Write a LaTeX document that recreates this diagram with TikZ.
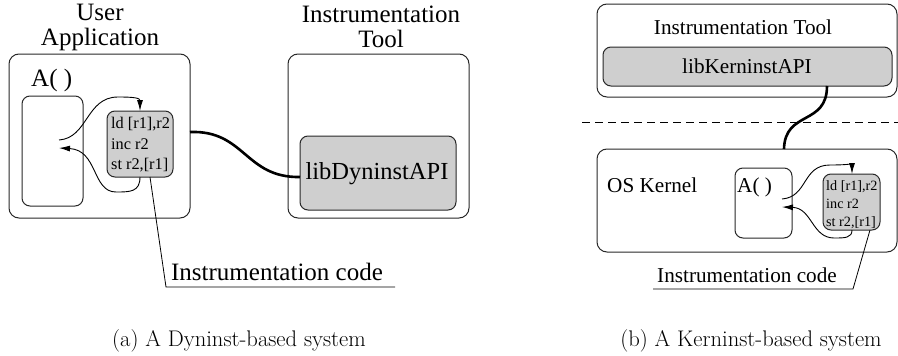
\documentclass[tikz,border=0pt]{standalone}
\usepackage{fontspec}
\setmainfont{Liberation Serif}
\newfontfamily\capfont{Latin Modern Roman}
\usetikzlibrary{arrows.meta}
\definecolor{boxgray}{RGB}{207,207,207}
\definecolor{edge}{RGB}{40,40,40}
\begin{document}
\begin{tikzpicture}[x=1pt,y=-1pt,
  outer/.style={draw=edge,line width=1pt,rounded corners=10pt},
  inner/.style={draw=edge,line width=1pt,rounded corners=8pt},
  graybox/.style={draw=edge,line width=1pt,fill=boxgray,rounded corners=8pt},
  bigtxt/.style={font=\fontsize{25}{25}\selectfont,align=center,inner sep=0pt},
  midtxt/.style={font=\fontsize{21.2}{22}\selectfont,align=center,inner sep=0pt},
  codeA/.style={font=\fontsize{16.3}{20.5}\selectfont,align=left,inner sep=0pt},
  codeB/.style={font=\fontsize{14.2}{18}\selectfont,align=left,inner sep=0pt},
  captxt/.style={font=\capfont\fontsize{22.6}{24}\selectfont,inner sep=0pt},
  flow/.style={line width=0.9pt,-{Latex[length=11pt,width=6pt]}},
  link/.style={line width=2.6pt},
  leader/.style={line width=0.8pt}
]
\useasboundingbox (0,0) rectangle (898,356);
% ---------- (a) ----------
\node[bigtxt] (ualbl) at (100,27) {User\\Application};
\node[bigtxt] (itlbl) at (381,27) {Instrumentation\\Tool};
\draw[outer] (9,54) rectangle (190,218);
\coordinate (oAr) at (190,132);
\draw[outer] (288,54) rectangle (469,218);
\node[bigtxt,anchor=west] (alblA) at (31,80) {A( )};
\draw[inner] (22,96) rectangle (83,206);
\draw[graybox] (107,111) rectangle (173,177);
\node[codeA,anchor=north west] (codeTxtA) at (111,117) {ld [r1],r2\\inc r2\\st r2,[r1]};
\draw[graybox] (300,136) rectangle (456,210);
\node[font=\fontsize{24.5}{25}\selectfont,inner sep=0pt] (libD) at (377,174) {libDyninstAPI};
\coordinate (libDw) at (300,177);
\draw[link] (oAr) .. controls (245,130) and (245,178) .. (libDw);
\coordinate (a1s) at (59,140);
\coordinate (a1e) at (140,111);
\coordinate (a2s) at (140,177);
\coordinate (a2e) at (59,148);
\draw[flow] (a1s) .. controls (88,138) and (86,97) .. (118,97) .. controls (134,97) and (140,98) .. (a1e);
\draw[flow] (a2s) .. controls (140,192) and (130,192) .. (116,192) .. controls (92,192) and (98,150) .. (a2e);
\node[bigtxt] (icA) at (277,272) {Instrumentation code};
\coordinate (ulA1) at (166,287);
\coordinate (ulA2) at (395,287);
\coordinate (ldA) at (150,177);
\draw[leader] (ldA) -- (ulA1) -- (ulA2);
\node[captxt] (capA) at (239,341) {(a) A Dyninst-based system};
% ---------- (b) ----------
\draw[outer] (597,4) rectangle (897,97);
\node[midtxt] (itlblB) at (743,27) {Instrumentation Tool};
\draw[graybox] (603,47) rectangle (892,86);
\node[midtxt] (libK) at (747,66) {libKerninstAPI};
\draw[line width=0.9pt,dash pattern=on 8pt off 5pt] (582,122) -- (898,122);
\draw[outer] (597,149) rectangle (897,252);
\coordinate (lkS) at (827,86);
\coordinate (lkE) at (784,149);
\draw[link] (lkS) .. controls (827,126) and (785,110) .. (lkE);
\node[midtxt,anchor=west] (osk) at (607,185) {OS Kernel};
\draw[inner] (735,168) rectangle (792,238);
\node[midtxt,anchor=west] (alblB) at (737,187) {A( )};
\draw[graybox] (823,174) rectangle (880,230);
\node[codeB,anchor=north west] (codeTxtB) at (826,180) {ld [r1],r2\\inc r2\\st r2,[r1]};
\coordinate (b1s) at (782,199);
\coordinate (b1e) at (852,174);
\coordinate (b2s) at (852,230);
\coordinate (b2e) at (782,207);
\draw[flow] (b1s) .. controls (808,197) and (802,165) .. (830,165) .. controls (846,165) and (852,164) .. (b1e);
\draw[flow] (b2s) .. controls (852,238) and (845,238) .. (834,238) .. controls (812,238) and (812,208) .. (b2e);
\node[midtxt] (icB) at (747,275) {Instrumentation code};
\coordinate (ulB1) at (653,289);
\coordinate (ulB2) at (853,289);
\coordinate (ldB) at (870,230);
\draw[leader] (ulB1) -- (ulB2) -- (ldB);
\node[captxt] (capB) at (751,341) {(b) A Kerninst-based system};
\end{tikzpicture}
\end{document}
